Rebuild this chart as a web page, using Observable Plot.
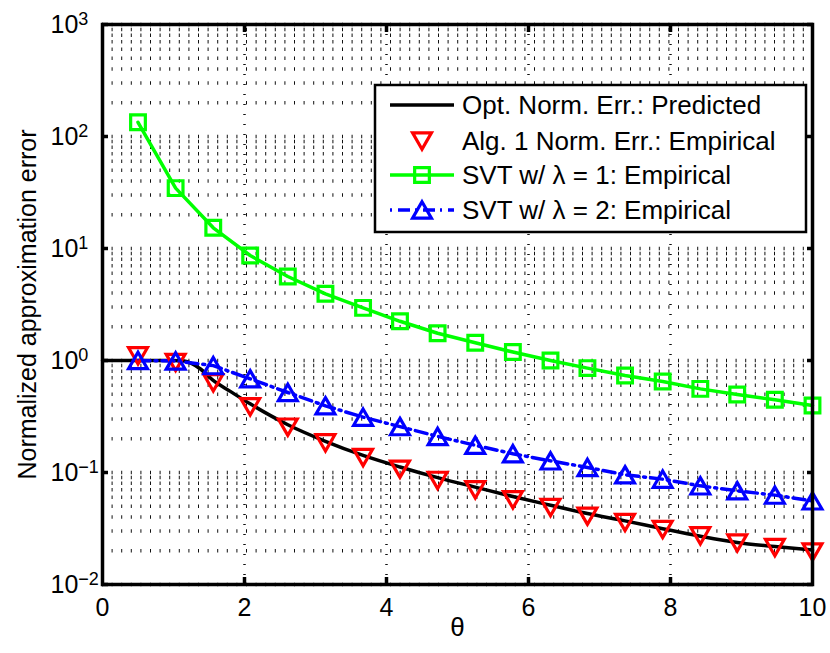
<!DOCTYPE html>
<html><head><meta charset="utf-8">
<script src="https://cdn.jsdelivr.net/npm/d3@7"></script>
<script src="https://cdn.jsdelivr.net/npm/@observablehq/plot@0.6"></script>
<style>body{margin:0;background:#fff;} #chart{width:830px;height:653px;}</style>
</head><body><div id="chart"></div>
<script>
// ---- data ----
const theta = [0.5, 1.03, 1.56, 2.08, 2.61, 3.14, 3.67, 4.19, 4.72, 5.25, 5.78, 6.31, 6.83, 7.36, 7.89, 8.42, 8.94, 9.47, 10];
const alg1Err = [1.1, 0.96, 0.632, 0.386, 0.254, 0.184, 0.136, 0.107, 0.085, 0.07, 0.057, 0.0487, 0.0407, 0.0358, 0.031, 0.0272, 0.0235, 0.0214, 0.0195];
const svt1Err = [134, 34.6, 15.3, 8.66, 5.62, 3.94, 2.95, 2.24, 1.75, 1.44, 1.19, 1.0, 0.855, 0.735, 0.65, 0.558, 0.497, 0.446, 0.397];
const svt2Err = [1.0, 0.99, 0.9, 0.686, 0.518, 0.394, 0.312, 0.257, 0.21, 0.175, 0.147, 0.127, 0.111, 0.0954, 0.0872, 0.076, 0.0686, 0.0628, 0.0558];
const optTheta = [0, 0.5, 1.0, 1.15, 1.38, 1.55, 1.8, 2.08, 2.61, 3.14, 3.67, 4.19, 4.72, 5.25, 5.78, 6.31, 6.83, 7.36, 7.89, 8.42, 8.94, 9.47, 10];
const optErr = [1, 1, 1, 0.99, 0.84, 0.67, 0.53, 0.41, 0.267, 0.19, 0.142, 0.112, 0.09, 0.074, 0.061, 0.051, 0.043, 0.037, 0.0315, 0.027, 0.0237, 0.0218, 0.0203];
const xTicks = [0, 2, 4, 6, 8, 10];
const xGrid = [2, 4, 6, 8];
const yDecades = [0.01, 0.1, 1, 10, 100, 1000];
const yExponents = ["\u22122", "\u22121", "0", "1", "2", "3"];
const seriesNames = ["Opt. Norm. Err.: Predicted", "Alg. 1 Norm. Err.: Empirical", "SVT w/ \u03bb = 1: Empirical", "SVT w/ \u03bb = 2: Empirical"];
const xLabel = "\u03b8";
const yLabel = "Normalized approximation error";

// ---- tables ----
const opt = optTheta.map((t, i) => ({t, v: optErr[i]}));
const alg1 = theta.map((t, i) => ({t, v: alg1Err[i]}));
const svt1 = theta.map((t, i) => ({t, v: svt1Err[i]}));
const svt2 = theta.map((t, i) => ({t, v: svt2Err[i]}));
const yGrid = yDecades.slice(0, -1).flatMap(d => d3.range(1, 10).map(k => k * d)).concat([1000]);
const expOf = new Map(yDecades.map((d, i) => [d, yExponents[i]]));

const FONT = "'Liberation Sans', Arial, Helvetica, sans-serif";
const triR = 7, sqR = 8.3;
const triOff = 2.7;

const chart = Plot.plot({
  width: 830, height: 653,
  marginLeft: 102, marginRight: 18, marginTop: 24, marginBottom: 69,
  style: {fontFamily: FONT, fontSize: "24px", color: "#000", background: "#fff", overflow: "visible"},
  x: {domain: [0, 10]},
  y: {type: "log", domain: [0.01, 1000]},
  marks: [
    Plot.ruleY(yGrid, {stroke: "#111", strokeWidth: 3.5, strokeDasharray: "1,8.6"}),
    Plot.ruleX(xGrid, {stroke: "#111", strokeWidth: 2.5, strokeDasharray: "1,9"}),
    Plot.line(opt, {x: "t", y: "v", stroke: "#000", strokeWidth: 3.5, curve: "monotone-x"}),
    Plot.line(svt1, {x: "t", y: "v", stroke: "#00ff00", strokeWidth: 3.5}),
    Plot.line(svt2, {x: "t", y: "v", stroke: "#0000ff", strokeWidth: 3.5, strokeDasharray: "12,5,2,5"}),
    Plot.dot(svt1, {x: "t", y: "v", symbol: "square", r: sqR, stroke: "#00ff00", strokeWidth: 3.2, fill: "none"}),
    Plot.dot(alg1, {x: "t", y: "v", symbol: "triangle", rotate: 180, r: triR, dy: -triOff, stroke: "#ff0000", strokeWidth: 3.2, fill: "none"}),
    Plot.dot(svt2, {x: "t", y: "v", symbol: "triangle", r: triR, dy: triOff, stroke: "#0000ff", strokeWidth: 3.2, fill: "none"}),
    Plot.frame({stroke: "#000", strokeWidth: 3.5}),
    Plot.axisX({anchor: "bottom", ticks: xGrid, tickSize: -7, strokeWidth: 3.5, fill: "none", label: null}),
    Plot.axisX({anchor: "top", ticks: xGrid, tickSize: -7, strokeWidth: 3.5, fill: "none", label: null}),
    Plot.axisY({anchor: "left", ticks: yDecades, tickSize: -6, strokeWidth: 3.5, fill: "none", label: null}),
    Plot.axisY({anchor: "right", ticks: yDecades, tickSize: -6, strokeWidth: 3.5, fill: "none", label: null}),
    Plot.axisX({anchor: "bottom", ticks: xTicks, tickSize: 0, tickPadding: 14, stroke: "none", fill: "#000", label: null, tickFormat: d => String(d), fontSize: 25}),
    Plot.axisY({anchor: "left", ticks: yDecades, tickSize: 0, tickPadding: 0, stroke: "none", fill: "#000", textAnchor: "start", dx: -52, label: null, tickFormat: d => expOf.get(d), fontSize: 25}),
    Plot.text([xLabel], {frameAnchor: "bottom", textAnchor: "middle", dy: 51, fontSize: 26, fill: "#000"}),
    Plot.text([yLabel], {frameAnchor: "left", textAnchor: "middle", rotate: -90, dx: -75, fontSize: 25, fill: "#000"})
  ]
});
document.getElementById("chart").appendChild(chart);

// superscripts for the log tick labels
const svg = d3.select(chart);
svg.selectAll('g[aria-label="y-axis tick label"] text').each(function() {
  const e = this.textContent;
  const t = d3.select(this);
  t.text("10");
  t.append("tspan").attr("dy", -8).attr("font-size", 18).text(e);
});

// legend
const lg = svg.append("g").attr("font-family", FONT).attr("font-size", 26).attr("text-anchor", "start");
lg.append("rect").attr("x", 375).attr("y", 85).attr("width", 431).attr("height", 147)
  .attr("fill", "#fff").attr("stroke", "#000").attr("stroke-width", 2.5);
const rowY = [105, 141, 175, 210];
const sx0 = 390, sx1 = 454, sxm = 422, tx = 462;
const triPath = d3.symbol(d3.symbolTriangle, Math.PI * triR * triR)();
const sqPath = d3.symbol(d3.symbolSquare, Math.PI * sqR * sqR)();
lg.append("line").attr("x1", sx0).attr("x2", sx1).attr("y1", rowY[0]).attr("y2", rowY[0]).attr("stroke", "#000").attr("stroke-width", 3.5);
lg.append("path").attr("d", triPath).attr("transform", `translate(${sxm},${rowY[1] - triOff}) rotate(180)`).attr("fill", "none").attr("stroke", "#ff0000").attr("stroke-width", 3.2);
lg.append("line").attr("x1", sx0).attr("x2", sx1).attr("y1", rowY[2]).attr("y2", rowY[2]).attr("stroke", "#00ff00").attr("stroke-width", 3.5);
lg.append("path").attr("d", sqPath).attr("transform", `translate(${sxm},${rowY[2]})`).attr("fill", "none").attr("stroke", "#00ff00").attr("stroke-width", 3.2);
lg.append("line").attr("x1", sx0).attr("x2", sx1).attr("y1", rowY[3]).attr("y2", rowY[3]).attr("stroke", "#0000ff").attr("stroke-width", 3.5).attr("stroke-dasharray", "2,6,12,5");
lg.append("path").attr("d", triPath).attr("transform", `translate(${sxm},${rowY[3] + triOff})`).attr("fill", "none").attr("stroke", "#0000ff").attr("stroke-width", 3.2);
seriesNames.forEach((n, i) => {
  lg.append("text").attr("x", tx).attr("y", rowY[i]).attr("dy", "0.35em").attr("fill", "#000").text(n);
});
</script>
</body></html>
